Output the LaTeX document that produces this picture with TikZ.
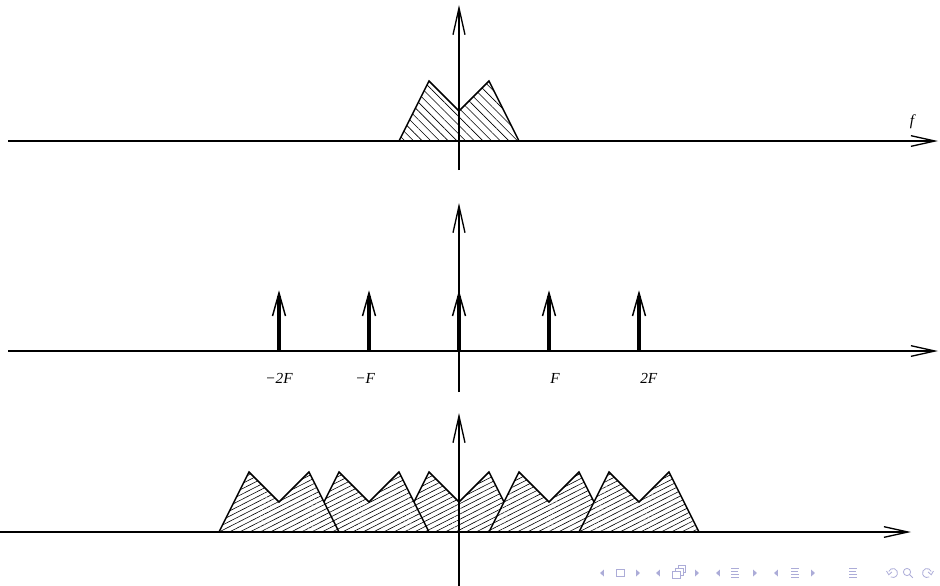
\documentclass[tikz,border=0pt]{standalone}
\usepackage{fontspec}
\setmainfont{Liberation Serif}
\usetikzlibrary{arrows.meta,patterns.meta}
\definecolor{navcol}{RGB}{172,172,216}
\begin{document}
\begin{tikzpicture}[x=0.75pt,y=-0.75pt,
  axisline/.style={line width=1pt,-{Straight Barb[length=18pt,width=8pt]}},
  vaxis/.style={line width=1pt,-{Straight Barb[length=20pt,width=9pt]}},
  shaft/.style={line width=2.3pt},
  barb/.style={line width=1.1pt},
  specedge/.style={line width=1.1pt,line join=miter},
  tophatch/.style={specedge,preaction={fill=white},pattern={Lines[angle=-45,distance=4.6pt,line width=0.45pt]}},
  bothatch/.style={specedge,preaction={fill=white},pattern={Lines[angle=27,distance=3.5pt,line width=0.45pt]}},
  lbl/.style={inner sep=0pt,font=\fontsize{11.5pt}{13pt}\selectfont\itshape},
  navc/.style={navcol,line width=0.6pt},
]
\useasboundingbox (0,0) rectangle (940,586);

% ---------- top panel ----------
\begin{scope}[shift={(459,141)}]
  \draw[tophatch] (-60,0) -- (-30,-60) -- (0,-30) -- (30,-60) -- (60,0) -- cycle;
\end{scope}
\coordinate (t0) at (8,141);
\coordinate (t1) at (938,141);
\coordinate (tv0) at (459,170);
\coordinate (tv1) at (459,5);
\draw[axisline] (t0) -- (t1);
\draw[vaxis] (tv0) -- (tv1);
\node[lbl] (flab) at (912,122) {f};

% ---------- middle panel ----------
\coordinate (m0) at (8,351);
\coordinate (m1) at (938,351);
\coordinate (mv0) at (459,392);
\coordinate (mv1) at (459,203);
\draw[axisline] (m0) -- (m1);
\draw[vaxis] (mv0) -- (mv1);
\foreach \x in {279,369,459,549,639}{
  \draw[shaft] (\x,351) -- (\x,296);
  \draw[barb] (\x-6.5,316) -- (\x,293) -- (\x+6.5,316);
}
\node[lbl,anchor=west] (l1) at (265,378) {−2F};
\node[lbl,anchor=west] (l2) at (355,378) {−F};
\node[lbl,anchor=west] (l3) at (550,378) {F};
\node[lbl,anchor=west] (l4) at (640,378) {2F};

% ---------- bottom panel ----------
\foreach \c in {459,369,549,279,639}{
  \begin{scope}[shift={(\c,532)}]
    \draw[bothatch] (-60,0) -- (-30,-60) -- (0,-30) -- (30,-60) -- (60,0) -- cycle;
  \end{scope}
}
\coordinate (b0) at (0,532);
\coordinate (b1) at (911,532);
\coordinate (bv0) at (459,586);
\coordinate (bv1) at (459,413);
\draw[axisline] (b0) -- (b1);
\draw[vaxis] (bv0) -- (bv1);

% ---------- navigation symbols ----------
\foreach \x in {602,658,718,776}{
  \fill[navcol] (\x+1.8,569.5) -- (\x-1.8,573) -- (\x+1.8,576.5) -- cycle;
}
\foreach \x in {638,697,755,813}{
  \fill[navcol] (\x-1.8,569.5) -- (\x+1.8,573) -- (\x-1.8,576.5) -- cycle;
}
\draw[navc] (616,569.5) rectangle (624,576.5);
\draw[navc] (672,571) rectangle (680,578);
\draw[navc] (675,571) -- (675,568) -- (683,568) -- (683,575) -- (680,575);
\draw[navc] (678,568) -- (678,565.5) -- (685,565.5) -- (685,572) -- (683,572);
\foreach \x in {735,795,853}{
  \draw[navc] (\x-4,568) -- (\x+4,568);
  \draw[navc] (\x-4,571) -- (\x+3,571);
  \draw[navc] (\x-4,574) -- (\x+4,574);
  \draw[navc] (\x-4,577) -- (\x+4,577);
}
% undo
\draw[navc] (893,573) ++(200:4.5) arc[start angle=200,end angle=480,radius=4.5];
\draw[navc] (886.5,571) -- (888.8,574.8) -- (891.8,572);
% search
\draw[navc] (907,572) circle[radius=3.6];
\draw[navc] (909.6,574.6) -- (912.8,577.8);
% redo
\draw[navc] (927,573) ++(-20:4.5) arc[start angle=-20,end angle=-300,radius=4.5];
\draw[navc] (933.5,571) -- (931.2,574.8) -- (928.2,572);
\end{tikzpicture}
\end{document}
